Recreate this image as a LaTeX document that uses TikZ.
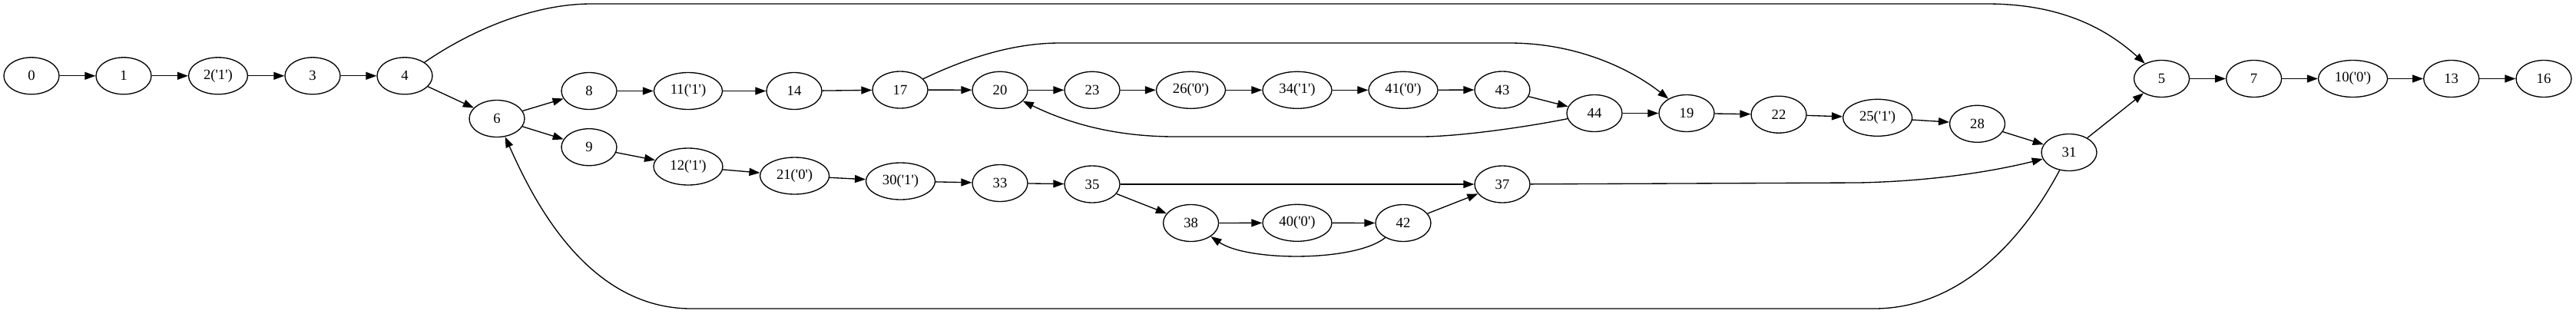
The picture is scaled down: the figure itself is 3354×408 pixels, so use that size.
\documentclass[tikz,border=0pt]{standalone}
\usepackage{fontspec}
\setmainfont{Liberation Serif}[Ligatures=TeXOff]
\usepackage{tikz}
\usetikzlibrary{shapes.geometric}
\usetikzlibrary{arrows.meta}

\tikzset{
  vtx/.style={ellipse, draw, line width=1pt, minimum width=54pt, minimum height=36pt,
              inner xsep=6.2pt, inner ysep=3pt, font=\fontsize{14}{16}\selectfont},
  edge/.style={line width=1pt, -{Triangle[length=10.5pt,width=7.5pt]}}
}

\begin{document}
\begin{tikzpicture}[x=0.75pt,y=-0.75pt]
    \useasboundingbox (0,0) rectangle (3354,408);
    % Entry Chain
    \node[vtx] (n0) at (41, 98.8) {0};
    \node[vtx] (n1) at (161, 98.8) {1};
    \node[vtx] (n2) at (284, 98.8) {2('1')};
    \node[vtx] (n3) at (407, 98.8) {3};
    \node[vtx] (n4) at (527, 98.8) {4};
    \node[vtx] (n6) at (647, 154.5) {6};
    % Upper Branch
    \node[vtx] (n8) at (767, 118.5) {8};
    \node[vtx] (n11) at (896, 118.5) {11('1')};
    \node[vtx] (n14) at (1034, 118.5) {14};
    \node[vtx] (n17) at (1172, 117) {17};
    \node[vtx] (n20) at (1302, 117.3) {20};
    \node[vtx] (n23) at (1422, 117.3) {23};
    \node[vtx] (n26) at (1550.5, 117.3) {26('0')};
    \node[vtx] (n34) at (1689, 117.3) {34('1')};
    \node[vtx] (n41) at (1827, 117.3) {41('0')};
    \node[vtx] (n43) at (1956, 117) {43};
    \node[vtx] (n44) at (2076, 147.5) {44};
    \node[vtx] (n19) at (2196, 147.5) {19};
    \node[vtx] (n22) at (2316, 149.2) {22};
    \node[vtx] (n25) at (2444.6, 153.3) {25('1')};
    \node[vtx] (n28) at (2574.5, 161.3) {28};
    \node[vtx] (n31) at (2694, 198.5) {31};
    % Lower Branch
    \node[vtx] (n9) at (767, 191.7) {9};
    \node[vtx] (n12) at (896, 217) {12('1')};
    \node[vtx] (n21) at (1034.6, 229) {21('0')};
    \node[vtx] (n30) at (1172.5, 236) {30('1')};
    \node[vtx] (n33) at (1302, 238.5) {33};
    \node[vtx] (n35) at (1422, 240) {35};
    \node[vtx] (n38) at (1550.6, 290.5) {38};
    \node[vtx] (n40) at (1689, 290.3) {40('0')};
    \node[vtx] (n42) at (1827, 290.5) {42};
    \node[vtx] (n37) at (1956, 240) {37};
    % Exit Chain
    \node[vtx] (n5) at (2814.5, 102.5) {5};
    \node[vtx] (n7) at (2934.6, 102.5) {7};
    \node[vtx] (n10) at (3063.5, 102.5) {10('0')};
    \node[vtx] (n13) at (3191.7, 102.5) {13};
    \node[vtx] (n16) at (3312, 102.5) {16};
    %
% Entry Edges:
 \draw[edge] (n0) -- (n1);
 \draw[edge] (n1) -- (n2);
 \draw[edge] (n2) -- (n3);
 \draw[edge] (n3) -- (n4);
 \draw[edge] (n4) -- (n6);
 \draw[edge] (n4) .. controls (620,35) and (700,5) .. (770,5) -- (2587,5) .. controls (2680,5) and (2740,35) .. (n5);
 % Upper Branch Edges:
 \draw[edge] (n6) -- (n8);
 \draw[edge] (n8) -- (n11);
 \draw[edge] (n11) -- (n14);
 \draw[edge] (n14) -- (n17);
 \draw[edge] (n17) -- (n20);
 \draw[edge] (n17) .. controls (1260,75) and (1320,56) .. (1380,56) -- (1965,56) .. controls (2060,56) and (2130,95) .. (n19);
 \draw[edge] (n20) -- (n23);
 \draw[edge] (n23) -- (n26);
 \draw[edge] (n26) -- (n34);
 \draw[edge] (n34) -- (n41);
 \draw[edge] (n41) -- (n43);
 \draw[edge] (n43) -- (n44);
 \draw[edge] (n44) -- (n19);
 \draw[edge] (n44) .. controls (1990,165) and (1900,178) .. (1850,178) -- (1530,178) .. controls (1440,178) and (1380,155) .. (n20);
 \draw[edge] (n19) -- (n22);
 \draw[edge] (n22) -- (n25);
 \draw[edge] (n25) -- (n28);
 \draw[edge] (n28) -- (n31);
 % Lower Branch Edges:
 \draw[edge] (n6) -- (n9);
 \draw[edge] (n9) -- (n12);
 \draw[edge] (n12) -- (n21);
 \draw[edge] (n21) -- (n30);
 \draw[edge] (n30) -- (n33);
 \draw[edge] (n33) -- (n35);
 \draw[edge] (n35) -- (n37);
 \draw[edge] (n35) -- (n38);
 \draw[edge] (n38) -- (n40);
 \draw[edge] (n40) -- (n42);
 \draw[edge] (n42) -- (n37);
 \draw[edge] (n42) .. controls (1765,341) and (1625,341) .. (n38);
 \draw[edge] (n37) -- (2420,238) .. controls (2520,236) and (2600,222) .. (n31);
 % Back Edge and Exit Edges:
 \draw[edge] (n31) .. controls (2640,300) and (2560,402) .. (2440,402) -- (900,402) .. controls (760,402) and (690,250) .. (n6);
 \draw[edge] (n31) -- (n5);
 \draw[edge] (n5) -- (n7);
 \draw[edge] (n7) -- (n10);
 \draw[edge] (n10) -- (n13);
 \draw[edge] (n13) -- (n16);
\end{tikzpicture}
\end{document}
